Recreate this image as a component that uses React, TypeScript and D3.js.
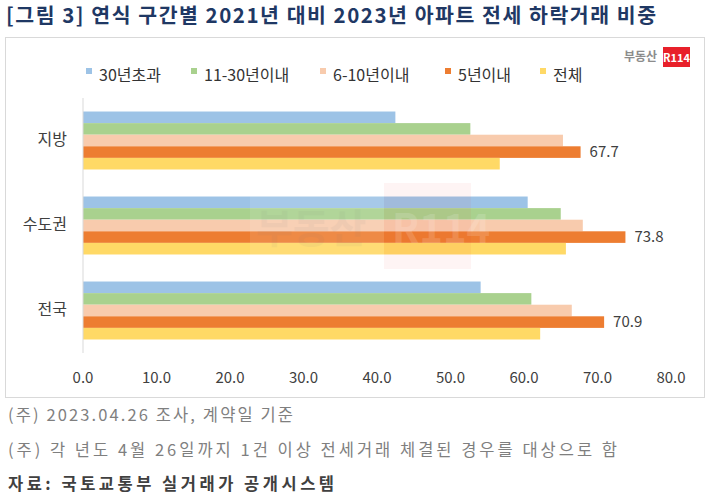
import React from "react";
import * as d3 from "d3";

const categories = ["지방", "수도권", "전국"];
const seriesNames = ["30년초과", "11-30년이내", "6-10년이내", "5년이내", "전체"];
const seriesColors = ["#9dc3e6", "#a9d18e", "#f8cbad", "#ed7d31", "#ffd966"];
// values[series][category]
const s30over = [42.5, 60.5, 54.1];
const s11to30 = [52.7, 65.0, 61.0];
const s6to10 = [65.3, 68.0, 66.5];
const s5under = [67.7, 73.8, 70.9];
const sTotal = [56.7, 65.7, 62.2];
const seriesValues = [s30over, s11to30, s6to10, s5under, sTotal];
const labeledSeries = 3;
const tickValues = [0, 10, 20, 30, 40, 50, 60, 70, 80];

const title = "[그림 3] 연식 구간별 2021년 대비 2023년 아파트 전세 하락거래 비중";
const notes = [
  "(주) 2023.04.26 조사, 계약일 기준",
  "(주) 각 년도 4월 26일까지 1건 이상 전세거래 체결된 경우를 대상으로 함",
  "자료: 국토교통부 실거래가 공개시스템",
];

const FONT = "'Noto Sans CJK KR', 'Malgun Gothic', sans-serif";

export default function App() {
  const W = 710;
  const H = 502;
  const x = d3.scaleLinear().domain([0, 80]).range([83, 671]);
  const y = d3
    .scaleBand<string>()
    .domain(categories)
    .range([98, 353])
    .paddingInner(0.318)
    .paddingOuter(0.159);
  const inner = d3
    .scaleBand<string>()
    .domain(seriesNames)
    .range([0, y.bandwidth()]);

  const legendX = [86, 191, 320, 445, 540];

  return (
    <svg
      width={W}
      height={H}
      style={{ position: "absolute", left: 0, top: 0, background: "#fff" }}
      fontFamily={FONT}
    >
      <rect x={0} y={0} width={W} height={H} fill="#fff" />
      <text
        x={6}
        y={23}
        fontSize={20.5}
        fontWeight={700}
        fill="#1f3864"
        textLength={650}
        lengthAdjust="spacing"
      >
        {title}
      </text>
      <rect x={5.5} y={37.5} width={699} height={360} fill="none" stroke="#d9d9d9" />

      {/* logo */}
      <text x={657} y={61} fontSize={12} fontWeight={700} fill="#8c8c8c" textAnchor="end">부동산</text>
      <rect x={663} y={47} width={27} height={20} fill="#e8202a" />
      <text x={676.5} y={61.5} fontSize={11} fontWeight={700} fill="#fff" textAnchor="middle">R114</text>

      {/* legend */}
      {seriesNames.map((name, i) => (
        <g key={name}>
          <rect x={legendX[i]} y={68} width={6} height={6} fill={seriesColors[i]} />
          <text x={legendX[i] + 13} y={81} fontSize={16} fill="#333">{name}</text>
        </g>
      ))}

      {/* bars */}
      {categories.map((cat, ci) => (
        <g key={cat} transform={`translate(0,${y(cat)})`}>
          {seriesNames.map((s, si) => {
            const v = seriesValues[si][ci];
            return (
              <rect
                key={s}
                x={x(0)}
                y={inner(s)}
                width={x(v) - x(0)}
                height={inner.bandwidth()}
                fill={seriesColors[si]}
              />
            );
          })}
          <text
            x={x(seriesValues[labeledSeries][ci]) + 9}
            y={(inner(seriesNames[labeledSeries]) as number) + inner.bandwidth() / 2}
            dy="0.35em"
            fontSize={15}
            fill="#404040"
          >
            {seriesValues[labeledSeries][ci].toFixed(1)}
          </text>
        </g>
      ))}

      {/* watermark (on top of bars, translucent) */}
      <g>
        <rect x={250} y={183} width={134} height={86} fill="#ffffff" opacity={0.1} />
        <text x={256} y={243} fontSize={40} fontWeight={700} fill="#777" opacity={0.06}>부동산</text>
        <rect x={384} y={183} width={87} height={86} fill="#e8202a" opacity={0.05} />
        <text x={392} y={243} fontSize={40} fontWeight={700} fill="#ffffff" opacity={0.14}>R114</text>
      </g>

      {/* axis */}
      <line x1={x(0)} x2={x(0)} y1={98} y2={353} stroke="#d9d9d9" />
      {categories.map((cat) => (
        <text
          key={cat}
          x={67}
          y={(y(cat) as number) + y.bandwidth() / 2 - 1}
          dy="0.35em"
          fontSize={16}
          fill="#404040"
          textAnchor="end"
        >
          {cat}
        </text>
      ))}
      {tickValues.map((t) => (
        <text key={t} x={x(t)} y={383} fontSize={15} fill="#404040" textAnchor="middle">
          {t.toFixed(1)}
        </text>
      ))}

      {/* notes */}
      <text x={8} y={421} fontSize={16.5} fill="#7f7f7f" textLength={285} lengthAdjust="spacing">{notes[0]}</text>
      <text x={8} y={456} fontSize={16.5} fill="#7f7f7f" textLength={609} lengthAdjust="spacing">{notes[1]}</text>
      <text x={8} y={490} fontSize={16.5} fontWeight={700} fill="#404040" textLength={326} lengthAdjust="spacing">{notes[2]}</text>
    </svg>
  );
}
